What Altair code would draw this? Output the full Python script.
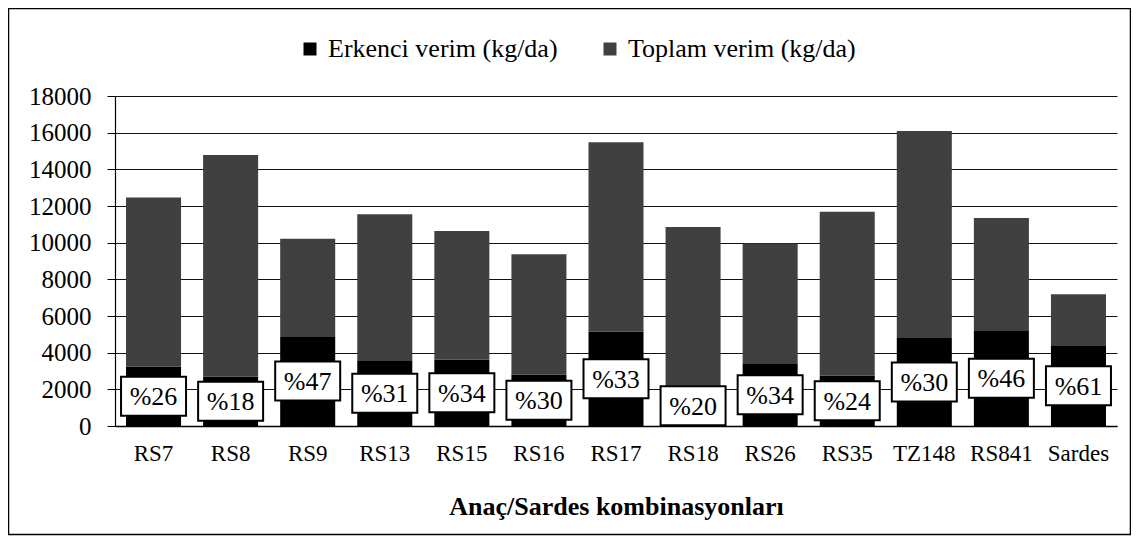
import altair as alt
import pandas as pd

categories = ["RS7", "RS8", "RS9", "RS13", "RS15", "RS16", "RS17", "RS18",
              "RS26", "RS35", "TZ148", "RS841", "Sardes"]
erkenci = [3240, 2700, 4900, 3580, 3620, 2800, 5150, 2200, 3420, 2750, 4800, 5220, 4400]
toplam = [12460, 14780, 10220, 11550, 10640, 9370, 15480, 10860, 9950, 11680, 16090, 11350, 7180]
percent = [26, 18, 47, 31, 34, 30, 33, 20, 34, 24, 30, 46, 61]
series_names = ["Erkenci verim (kg/da)", "Toplam verim (kg/da)"]
series_colors = ["#000000", "#404040"]
y_ticks = list(range(0, 18001, 2000))

rows = []
for c, e, t in zip(categories, erkenci, toplam):
    rows.append({"cat": c, "series": series_names[0], "start": 0, "end": e})
    rows.append({"cat": c, "series": series_names[1], "start": e, "end": t})
bars_df = pd.DataFrame(rows)

lab_df = pd.DataFrame({"cat": categories, "erkenci": erkenci,
                       "label": ["%" + str(p) for p in percent]})

FONT = "Liberation Serif"
W, H = 1002, 330

x_axis = alt.Axis(title="Anaç/Sardes kombinasyonları", labelAngle=0,
                  ticks=False, tickSize=0, labelPadding=34,
                  labelBaseline="alphabetic",
                  labelFont=FONT, labelFontSize=23, labelColor="black",
                  titleFont=FONT, titleFontSize=26, titleFontWeight="bold",
                  titleColor="black", titleY=88, titleBaseline="alphabetic",
                  domainColor="black", domainWidth=1.5, grid=False)
x_scale = alt.Scale(paddingInner=0.286, paddingOuter=0.143)

y_axis = alt.Axis(title=None, values=y_ticks, format="d",
                  labelOverlap=False, labelBound=False, labelFlush=False,
                  labelFont=FONT, labelFontSize=25, labelColor="black",
                  labelPadding=16, tickSize=8, tickColor="black",
                  domainColor="black", domainWidth=1.2,
                  grid=True, gridColor="#111111", gridWidth=1)
y_scale = alt.Scale(domain=[0, 18000], nice=False)

bars = alt.Chart(bars_df).mark_bar().encode(
    x=alt.X("cat:N", sort=categories, scale=x_scale, axis=x_axis),
    y=alt.Y("start:Q", title=None, scale=y_scale, axis=y_axis),
    y2="end:Q",
    color=alt.Color("series:N",
                    scale=alt.Scale(domain=series_names, range=series_colors),
                    legend=alt.Legend(title=None, orient="none", legendX=182, legendY=-60,
                                      direction="horizontal", symbolType="square",
                                      symbolSize=169, symbolStrokeWidth=0,
                                      labelFont=FONT, labelFontSize=26, labelColor="black",
                                      labelOffset=5, columnPadding=39, labelLimit=400)),
)

boxes = alt.Chart(lab_df).transform_calculate(mid="datum.erkenci / 2").mark_point(
    shape="M-1,-0.6H1V0.6H-1Z", size=4225, filled=True, fill="white",
    stroke="black", strokeWidth=2, opacity=1
).encode(x=alt.X("cat:N", sort=categories, scale=x_scale, axis=x_axis),
         y=alt.Y("mid:Q", title=None, scale=y_scale, axis=y_axis))

texts = alt.Chart(lab_df).transform_calculate(mid="datum.erkenci / 2").mark_text(
    font=FONT, fontSize=26, color="black", baseline="middle", dy=1
).encode(x=alt.X("cat:N", sort=categories, scale=x_scale, axis=x_axis),
         y=alt.Y("mid:Q", title=None, scale=y_scale, axis=y_axis),
         text="label:N")

frame_df = pd.DataFrame({"a": [0]})
frame = alt.Chart(frame_df).mark_rect(
    fillOpacity=0, stroke="black", strokeWidth=1.5
).encode(x=alt.value(-106.5), x2=alt.value(1015.5),
         y=alt.value(-87.5), y2=alt.value(438.5))

chart = alt.layer(bars, boxes, texts, frame).properties(
    width=W, height=H,
    autosize=alt.AutoSizeParams(type="none"),
    padding={"left": 107, "top": 88, "right": 14, "bottom": 110},
    background="white",
).configure_view(stroke=None)

chart.save("out.html", embed_options={"renderer": "svg", "actions": False})
